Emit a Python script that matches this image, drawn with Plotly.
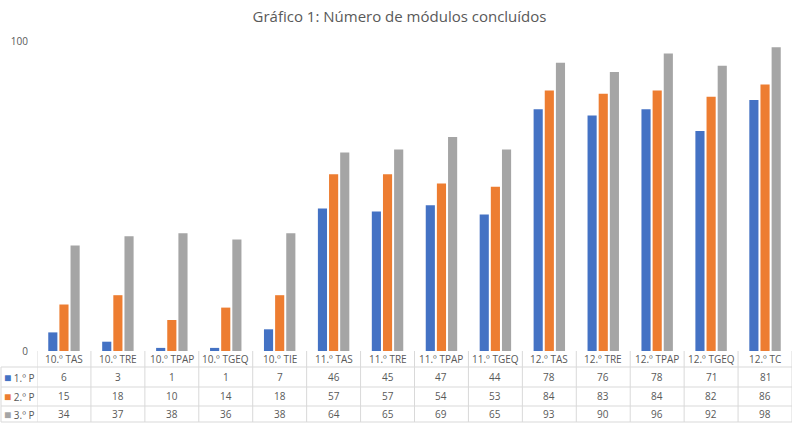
import plotly.graph_objects as go

categories = ["10.º TAS", "10.º TRE", "10.º TPAP", "10.º TGEQ", "10.º TIE",
              "11.º TAS", "11.º TRE", "11.º TPAP", "11.º TGEQ",
              "12.º TAS", "12.º TRE", "12.º TPAP", "12.º TGEQ", "12.º TC"]
series_names = ["1.º P", "2.º P", "3.º P"]
p1 = [6, 3, 1, 1, 7, 46, 45, 47, 44, 78, 76, 78, 71, 81]
p2 = [15, 18, 10, 14, 18, 57, 57, 54, 53, 84, 83, 84, 82, 86]
p3 = [34, 37, 38, 36, 38, 64, 65, 69, 65, 93, 90, 96, 92, 98]
colors = ["#4472C4", "#ED7D31", "#A5A5A5"]
series = [p1, p2, p3]

W, H = 799, 423
L, R, T, B = 37, 7, 41, 72
ph = H - T - B
pw = W - L - R

def py(pix):
    return (H - B - pix) / ph

def px(pix):
    return (pix - L) / pw

fig = go.Figure()
for name, vals, c in zip(series_names, series, colors):
    fig.add_trace(go.Bar(x=categories, y=vals, name=name, marker_color=c,
                         marker_line_width=0))

text_color = "#595959"
line_color = "#D9D9D9"
font = "Open Sans"
shapes = []
annotations = []

# horizontal table lines
for yy in [367, 387, 406, 422]:
    shapes.append(dict(type="line", xref="paper", yref="paper",
                       x0=px(1), x1=1, y0=py(yy), y1=py(yy),
                       line=dict(color=line_color, width=1)))
# vertical lines
for i in range(len(categories) + 1):
    shapes.append(dict(type="line", xref="x", yref="paper",
                       x0=i - 0.5, x1=i - 0.5, y0=0, y1=py(422),
                       line=dict(color=line_color, width=1)))
shapes.append(dict(type="line", xref="paper", yref="paper",
                   x0=px(1), x1=px(1), y0=py(367), y1=py(422),
                   line=dict(color=line_color, width=1)))

row_centers = [377, 396, 414]
for cat in categories:
    annotations.append(dict(x=cat, y=py(359), xref="x", yref="paper",
                            xanchor="center", yanchor="middle",
                            text=cat, showarrow=False,
                            font=dict(size=10, color=text_color, family=font)))
for r, (name, vals, c) in enumerate(zip(series_names, series, colors)):
    for cat, v in zip(categories, vals):
        annotations.append(dict(x=cat, y=py(row_centers[r]), xref="x", yref="paper",
                                xanchor="center", yanchor="middle",
                                text=str(v), showarrow=False,
                                font=dict(size=10, color=text_color, family=font)))
    annotations.append(dict(x=px(2), y=py(row_centers[r]), xref="paper", yref="paper",
                            xanchor="left", yanchor="middle",
                            text=f"<span style='color:{c};font-size:12px'>■</span> {name}",
                            showarrow=False,
                            font=dict(size=10, color=text_color, family=font)))

fig.update_layout(
    width=W, height=H,
    margin=dict(l=L, r=R, t=T, b=B, pad=0),
    paper_bgcolor="white", plot_bgcolor="white",
    title=dict(text="Gráfico 1: Número de módulos concluídos", x=0.5, xanchor="center",
               y=1 - 17 / H, yanchor="middle",
               font=dict(size=15, color=text_color, family=font)),
    barmode="group", bargap=0.38, bargroupgap=0.18,
    showlegend=False,
    xaxis=dict(showticklabels=False, showgrid=False, zeroline=False,
               range=[-0.5, len(categories) - 0.5], fixedrange=True),
    yaxis=dict(range=[0, 100], tickvals=[0, 100], showgrid=True, gridcolor=line_color,
               zeroline=False, tickfont=dict(size=10, color=text_color, family=font),
               ticklabelstandoff=8),
    shapes=shapes, annotations=annotations,
)
fig.write_html("out.html", config={"displayModeBar": False},
               post_script="document.body.style.margin='0';document.body.style.padding='0';")
